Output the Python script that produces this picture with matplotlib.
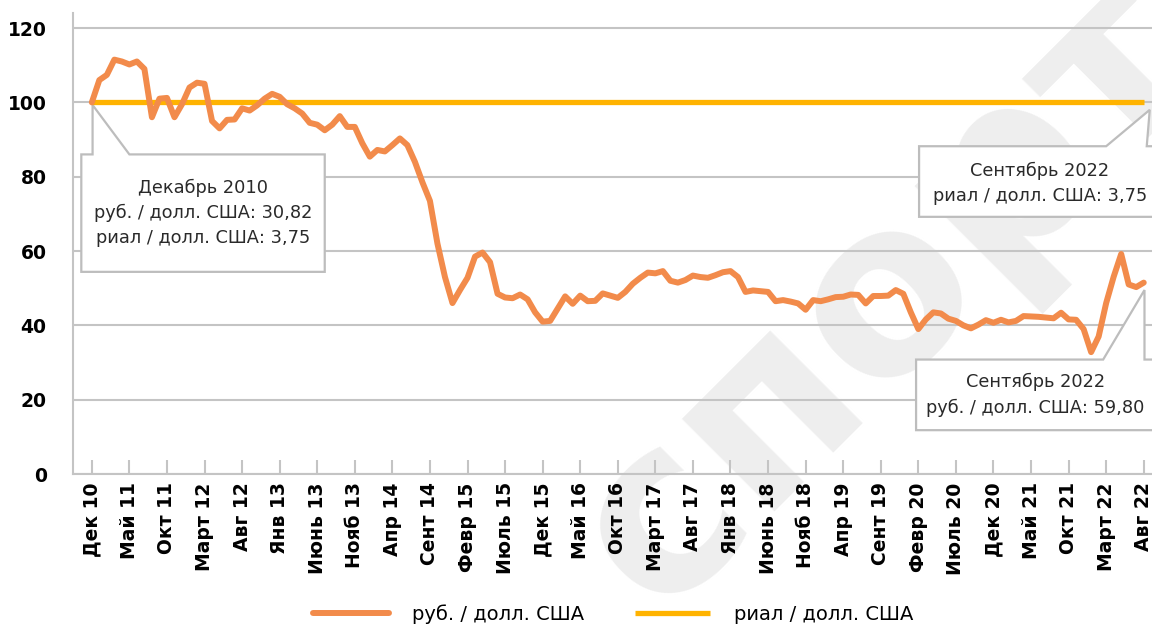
import matplotlib
matplotlib.use("Agg")
import matplotlib.pyplot as plt
from matplotlib.patches import Polygon
import numpy as np

plt.rcParams['font.family'] = ['DejaVu Sans']

# monthly index, Dec 2010 = 100
rub_usd = [
    100, 106, 107.4, 111.5, 111, 110.2, 111, 109, 96, 101,
    101.2, 96, 99.5, 104, 105.3, 105, 95, 93, 95.3, 95.4,
    98.4, 97.8, 99.2, 101, 102.3, 101.5, 99.5, 98.4, 97, 94.5,
    94, 92.5, 94, 96.3, 93.4, 93.4, 89, 85.4, 87.2, 86.8,
    88.5, 90.3, 88.5, 84, 78.5, 73.5, 62, 53, 46, 49.5,
    52.8, 58.5, 59.6, 57, 48.5, 47.5, 47.3, 48.3, 47, 43.5,
    41, 41.2, 44.5, 47.8, 45.8, 48, 46.5, 46.6, 48.6, 48,
    47.4, 49, 51.2, 52.8, 54.2, 54, 54.6, 52, 51.5, 52.2,
    53.4, 53, 52.8, 53.5, 54.3, 54.6, 53, 49, 49.4, 49.2,
    49, 46.5, 46.8, 46.4, 45.9, 44.2, 46.8, 46.5, 47, 47.6,
    47.7, 48.3, 48.2, 45.9, 47.9, 47.9, 48, 49.5, 48.5, 43.5,
    39, 41.6, 43.5, 43.2, 41.8, 41.2, 40, 39.2, 40.2, 41.4,
    40.7, 41.5, 40.8, 41.2, 42.5, 42.4, 42.3, 42.1, 41.9, 43.4,
    41.6, 41.5, 39, 32.8, 37, 46, 53.1, 59.2, 51, 50.3,
    51.5,
]
rial_usd = [100] * len(rub_usd)

tick_labels = ['Дек 10', 'Май 11', 'Окт 11', 'Март 12', 'Авг 12', 'Янв 13',
               'Июнь 13', 'Нояб 13', 'Апр 14', 'Сент 14', 'Февр 15', 'Июль 15',
               'Дек 15', 'Май 16', 'Окт 16', 'Март 17', 'Авг 17', 'Янв 18',
               'Июнь 18', 'Нояб 18', 'Апр 19', 'Сент 19', 'Февр 20', 'Июль 20',
               'Дек 20', 'Май 21', 'Окт 21', 'Март 22', 'Авг 22']

ORANGE = '#F28B4B'
YELLOW = '#FFB300'
GRID = '#C4C4C4'

fig = plt.figure(figsize=(11.52, 6.28), dpi=100)
ax = fig.add_axes([0.0634, 0.2452, 0.9366, 0.7338])
ax.patch.set_visible(False)

# watermark
fig.text(0.77, 0.53, 'спорт', fontsize=172, fontweight='bold', color='#EEEEEE',
         rotation=45, ha='center', va='center', zorder=-5)

x = np.arange(len(rub_usd))
ax.plot(x, rial_usd, color=YELLOW, lw=3.8, zorder=4, solid_capstyle='butt',
        label='риал / долл. США')
ax.plot(x, rub_usd, color=ORANGE, lw=4.3, zorder=5, solid_joinstyle='round',
        solid_capstyle='round', label='руб. / долл. США')

ax.set_xlim(-2.5, 141.1)
ax.set_ylim(0, 124)
ax.set_yticks([0, 20, 40, 60, 80, 100, 120])
ax.set_xticks(np.arange(0, 141, 5))
ax.set_xticklabels(tick_labels, rotation=90, fontsize=13.5, fontweight='bold')
for lab in ax.get_yticklabels():
    lab.set_fontweight('bold')
ax.tick_params(axis='y', length=0, pad=19, labelsize=13.5)
ax.tick_params(axis='x', direction='in', length=10, width=1.5, color=GRID, pad=6)
ax.grid(axis='y', color=GRID, lw=1.5, zorder=1)
ax.set_axisbelow(True)
for s in ['top', 'right']:
    ax.spines[s].set_visible(False)
for s in ['left', 'bottom']:
    ax.spines[s].set_color(GRID)
    ax.spines[s].set_linewidth(1.5)


def callout(pts, lines, cx, cy):
    poly = Polygon(pts, closed=True, facecolor='white', edgecolor='#BDBDBD',
                   lw=1.6, zorder=3, clip_on=False)
    ax.add_patch(poly)
    ax.text(cx, cy, '\n'.join(lines), ha='center', va='center', fontsize=12.8,
            color='#2A2A2A', linespacing=1.5, zorder=6)


callout([(-1.4, 86), (0.1, 86), (0.1, 99.3), (5.0, 86), (31, 86),
         (31, 54.4), (-1.4, 54.4)],
        ['Декабрь 2010', 'руб. / долл. США: 30,82', 'риал / долл. США: 3,75'],
        14.8, 70.2)
callout([(110.1, 88.2), (135, 88.2), (140.8, 98), (140.4, 88.2), (143, 88.2),
         (143, 69.2), (110.1, 69.2)],
        ['Сентябрь 2022', 'риал / долл. США: 3,75'],
        126.2, 78.3)
callout([(109.7, 30.8), (134.6, 30.8), (140.1, 49.5), (140.1, 30.8), (143, 30.8),
         (143, 11.8), (109.7, 11.8)],
        ['Сентябрь 2022', 'руб. / долл. США: 59,80'],
        125.6, 21.3)

h, l = ax.get_legend_handles_labels()
fig.legend(h[::-1], l[::-1], loc='center', bbox_to_anchor=(0.532, 0.022), ncol=2,
           frameon=False, fontsize=14, handlelength=3.9, handletextpad=1.2,
           columnspacing=2.6)

fig.savefig('out.png', dpi=100)
